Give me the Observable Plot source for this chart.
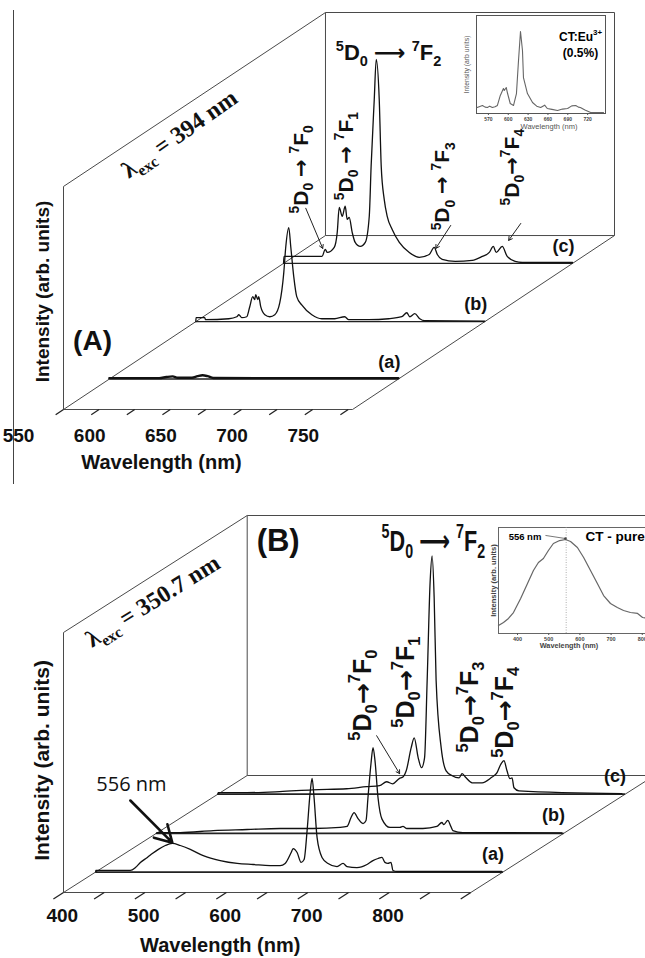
<!DOCTYPE html>
<html><head><meta charset="utf-8">
<script src="https://cdn.jsdelivr.net/npm/d3@7"></script>
<script src="https://cdn.jsdelivr.net/npm/@observablehq/plot@0.6"></script>
<style>
html,body{margin:0;padding:0;background:#fff;overflow:hidden;}
#page{position:relative;width:645px;height:958px;overflow:hidden;font-family:"Liberation Sans",Arial,sans-serif;}
.abs{position:absolute;}
#edge{position:absolute;left:13px;top:10px;width:0;height:474px;border-left:1px solid #444;}
</style></head><body><div id="page"><div id="edge"></div></div>
<script>
// ---------------- DATA ----------------
const seriesLabels = ["(a)", "(b)", "(c)"];
const seriesDepth = [0.175, 0.505, 0.84];

// Panel A (λexc = 394 nm) spectra: [wavelength nm, intensity a.u.]
const specA_a = [[550,0.4],[585,0.4],[590,0.9],[594.5,1.2],[598,0.6],[608,0.6],[612,1.3],[615.5,1.7],[619,1.3],[623,0.5],[680,0.4],[753,0.4]];
const specA_b = [[550,0],[550.2,1.8],[556.3,1.8],[556.8,0.9],[573.2,1.3],[578.8,2.2],[580.2,3.1],[582.3,1.8],[585.8,2.2],[587.9,6.7],[590,11.2],[591.4,9.9],[592.1,12.1],[593.5,9.9],[594.2,11.2],[595.6,6.7],[598.5,3.1],[602,2.2],[605.5,3.1],[609,8.5],[611.8,22],[613.2,33.6],[615.3,42.2],[616.7,33.6],[618.8,20.2],[620.9,11.2],[624.4,7.5],[631.5,3.1],[638.5,1.3],[647.6,1.3],[654.6,2.2],[657.4,0.9],[671.5,0.9],[685.5,1.3],[694.7,2.2],[698.2,4.0],[700.3,2.2],[703.8,3.6],[707.3,1.3],[710.8,0.4],[753,0.2]];
const specA_c = [[550,0],[550.3,3.1],[558,3.1],[577,3.1],[579.3,6.3],[580.7,4.9],[585.6,7.2],[587.7,13.9],[589.1,25.1],[591.2,21.1],[593.3,25.6],[594.7,19.7],[596.1,20.6],[598.2,13.9],[600.3,9.4],[603.9,7.6],[607.4,9.4],[610.2,21.1],[611.5,43.5],[613.7,73.5],[615.1,91.5],[617.2,73.5],[618.6,43.5],[620.7,28.7],[622.8,21.1],[626.3,15.2],[631.3,9.4],[638.3,4.9],[645.3,2.7],[652.3,4.0],[655.8,7.2],[658,4.0],[661.4,1.8],[670.6,0.9],[682.5,1.3],[689.6,3.1],[694.5,4.9],[697.3,7.6],[699.4,4.9],[703.6,7.6],[707.1,3.1],[712.7,0.9],[717.7,0.4],[753,0.4]];

// Panel B (λexc = 350.7 nm) spectra
const specB_a = [[350,0],[350.2,0.6],[392.6,0.6],[398.8,1.7],[404.9,3.7],[413.5,5.6],[419.6,7.1],[427,8.7],[435.5,10.2],[444.1,11],[453.9,10.2],[466.2,8.7],[482.1,6.3],[502.9,4.4],[523.8,3.3],[543.4,2.9],[564.2,2.5],[576.5,2.5],[582.6,3.3],[590,7.5],[592.4,9.0],[597.3,7.5],[602.2,3.7],[605.9,4.8],[609.6,16],[613.2,30.2],[615.7,36],[618.1,28.7],[621.8,13.3],[627.9,5.6],[635.3,3.3],[646.3,2.1],[653.7,3.3],[658.6,2.1],[670.8,1.7],[683.1,2.9],[690.4,4.4],[696.6,5.2],[701.5,5.6],[705.1,3.7],[708.8,3.3],[712.5,3.7],[715,0.6],[720,0.2],[848.5,0.2]];
const specB_b = [[350,0],[351.3,0.3],[379.5,0.3],[420,1.1],[461.6,1.5],[502.1,1.9],[542.5,1.9],[575.6,2.3],[584.2,2.7],[589.1,6.1],[592.8,8.0],[597.7,5.7],[603.8,3.8],[607.5,5],[609.9,13.8],[613.6,26.9],[616.1,33],[618.5,28],[622.2,13.8],[627.1,5.5],[636.9,2.3],[649.1,2.3],[652.8,2.7],[657.7,1.9],[677.3,1.9],[694.5,2.7],[700.6,4.2],[703,3.4],[707.9,5],[711.6,2.7],[714.1,1.1],[726.3,0.3],[847.7,0.2]];
const specB_c = [[350,0],[350.5,0.6],[385.6,0.6],[426.1,1],[466.5,1.7],[508.2,2.1],[532.7,2.9],[548.6,3.3],[557.2,4.8],[564.5,4],[572.7,6],[577.6,6.7],[581.3,9],[587.4,17.9],[591.1,21.7],[596,14],[600.1,10.2],[603.8,14],[607,43.7],[610.7,82.1],[613.1,91.7],[615.6,75.6],[618,43.7],[624.2,17.9],[630.3,9],[637.7,7.1],[646.2,6.3],[649.9,7.9],[654.8,6.3],[662.2,4.4],[674.4,4.4],[685.4,6.3],[692.8,8.3],[697.7,11.7],[701.3,12.9],[705,9],[708.7,6],[711.2,6.3],[713.6,2.5],[719.7,1.3],[846,0.2]];

// Insets
const insetA = [[553,6.1],[557,7.2],[561,8.2],[565,6.5],[568.5,6.1],[572,7.5],[576,6.1],[580,6.8],[583.6,8.2],[588,18.4],[592.7,25.5],[594,23.5],[597,26.5],[599,20.4],[603,10.2],[608,8.2],[612.4,20.4],[615.5,54],[618.5,83.7],[621.5,64.3],[623,36.7],[629,20.4],[636.7,11.2],[643,7.5],[649,6.1],[655,8.5],[659,5.1],[666,4.2],[674.5,3.1],[682,4.5],[689.7,5.1],[696,7.8],[702,8.2],[706,6.5],[709,6.1],[716,3.5],[724.5,1],[744,1]];
const insetB = [[339,7.5],[355,10.4],[371,14.2],[387,19.8],[410,33],[432,47.2],[451,59.4],[467,67],[483,70.8],[499,78.3],[515,84.9],[535,87.7],[554,88.7],[570,86.8],[592,81.1],[612,71.7],[634,59.4],[656,47.2],[676,35.8],[698,28.3],[720,24.5],[740,21.7],[762,19.8],[785,18.9],[801,15.1],[811,14.5]];

// Ticks
const ticksA = [550,575,600,625,650,675,700,725,750];
const tickLabelsA = [550,600,650,700,750];
const ticksB = [350,400,450,500,550,600,650,700,750,800,850];
const tickLabelsB = [400,500,600,700,800];
const insetTicksA = [570,600,630,660,690,720];
const insetTicksB = [400,500,600,700,800];

// Transition annotations (anchored on series (c))
const annotationsA = [
  {text:"^5D_0 ~ ^7F_2", w:586.7, I:91, rot:0},
  {text:"^5D_0 → ^7F_0", w:562.1, I:22.4, rot:-90},
  {text:"^5D_0 → ^7F_1", w:593.7, I:28.3, rot:-90},
  {text:"^5D_0 → ^7F_3", w:661.8, I:14.8, rot:-90},
  {text:"^5D_0→^7F_4", w:710.3, I:26.0, rot:-90}
];
const pointersA = [
  {w1:565.6, I1:24.7, w2:577.5, I2:6.7},
  {w1:667.4, I1:17, w2:656.9, I2:6.7},
  {w1:716.6, I1:17.9, w2:708.1, I2:10.3}
];
const annotationsB = [
  {text:"^5D_0 ~ ^7F_2", w:551.1, I:93.7, rot:0},
  {text:"^5D_0→^7F_0", w:527.8, I:20.6, rot:-90},
  {text:"^5D_0→^7F_1", w:580.5, I:25.6, rot:-90},
  {text:"^5D_0→^7F_3", w:660.2, I:16.0, rot:-90},
  {text:"^5D_0→^7F_4", w:703.1, I:14.0, rot:-90}
];
const pointersB = [{w1:545, I1:22.5, w2:573.2, I2:7.9}];
const calloutB = [{text:"556 nm", w:393.9, I:33.7, w1:392.6, I1:27.5, w2:444.1, I2:11.3}];
const insetCalloutB = [{text:"556 nm", w:424, I:91, w1:489.6, I1:92.5, w2:553.7, I2:89.6}];

// Titles
const titlesA = {
  exc: [{text:"λ_{exc} = 394 nm", w:550, I:89, d:0.443}],
  panel: [{text:"(A)", w:570.4, I:30.9, d:0}],
  yTitle: [{text:"Intensity (arb. units)", w:535.3, I:52.9, d:0}],
  xTitle: [{text:"Wavelength (nm)", w:618.8, I:-23.8, d:0}]
};
const titlesB = {
  exc: [{text:"λ_{exc} = 350.7 nm", w:350, I:90.2, d:0.486}],
  panel: [{text:"(B)", w:388, I:90, d:1}],
  yTitle: [{text:"Intensity (arb. units)", w:324.3, I:50.8, d:0}],
  xTitle: [{text:"Wavelength (nm)", w:542.4, I:-20.4, d:0}]
};

// ---------------- DRAWING ----------------
const edgeList = [
  [[0,0,0],[1,0,0]],[[0,0,0],[0,1,0]],[[0,1,0],[0,1,1]],[[0,0,0],[0,0,1]],
  [[0,0,1],[0,1,1]],[[0,1,1],[1,1,1]],[[1,0,1],[1,1,1]],[[0,0,1],[1,0,1]],[[1,0,0],[1,0,1]]
];
const L = {x1:"x1", y1:"y1", x2:"x2", y2:"y2"};

function panel(G, cfg) {
  const P = (w, I, d) => [w + d * G.dw, I + d * G.di];
  const seg = (a, b) => { const p = P(...a), q = P(...b); return {x1:p[0], y1:p[1], x2:q[0], y2:q[1]}; };
  const corner = k => [k[0] ? G.w1 : G.w0, k[1] ? G.top : 0, k[2]];
  const pt = (o, d) => { const p = P(o.w, o.I, d ?? o.d); return {...o, x:p[0], y:p[1]}; };
  const edges = edgeList.map(([a, b]) => seg(corner(a), corner(b)));
  const plates = seriesDepth.map(d => seg([G.w0,0,d],[G.w1,0,d]));
  const ends = seriesDepth.map((d, i) => { const p = P(G.w1,0,d); return {x:p[0], y:p[1], label:seriesLabels[i]}; });
  const curves = cfg.spectra.map((s, i) => s.map(([w, I]) => { const p = P(w, I, seriesDepth[i]); return {x:p[0], y:p[1]}; }));
  const tickSegs = cfg.ticks.map(w => seg([w,0,0],[w,0,-G.tick]));
  const tickText = cfg.tickLabels.map(w => { const p = P(w,0,0); return {x:p[0], y:p[1], t:String(w)}; });
  const dc = seriesDepth[2];
  const ann = cfg.annotations.map(a => pt(a, dc));
  const ptr = cfg.pointers.map(a => seg([a.w1,a.I1,dc],[a.w2,a.I2,dc]));
  const T = cfg.titles;
  const marks = [
    Plot.link(edges, {...L, stroke:"#4a4a4a", strokeWidth:1}),
    Plot.link(tickSegs, {...L, stroke:"#222", strokeWidth:1.3}),
    Plot.link(plates, {...L, stroke:"#222", strokeWidth:cfg.plateW}),
    ...curves.map((c, i) => Plot.line(c, {x:"x", y:"y", curve:"monotone-x", stroke:"#111", strokeWidth: cfg.curveW[i]})),
    Plot.text(tickText, {x:"x", y:"y", text:"t", dx:cfg.tickDx, dy:cfg.tickDy, lineAnchor:"middle", fontSize:cfg.tickFs, fontWeight:"bold"}),
    Plot.text(ends, {x:"x", y:"y", text:"label", dx:cfg.labDx, dy:cfg.labDy, lineAnchor:"middle", fontSize:18, fontWeight:"bold"}),
    Plot.text(ann.filter(a => a.rot === 0), {x:"x", y:"y", text:"text", textAnchor:"start", lineAnchor:"bottom", fontSize:cfg.annMainFs, fontWeight:"bold", fontFamily:cfg.annFont}),
    Plot.text(ann.filter(a => a.rot !== 0), {x:"x", y:"y", text:"text", rotate:-90, textAnchor:"start", lineAnchor:"middle", fontSize:cfg.annRotFs, fontWeight:"bold", fontFamily:cfg.annRotFont}),
    Plot.arrow(ptr, {...L, stroke:"#222", strokeWidth:1, headLength:6}),
    Plot.text(T.exc.map(o => pt(o)), {x:"x", y:"y", text:"text", rotate:cfg.excRot, lineAnchor:"middle", fontSize:24, fontWeight:"bold", fontFamily:"Liberation Serif, Times New Roman, serif"}),
    Plot.text(T.panel.map(o => pt(o)), {x:"x", y:"y", text:"text", lineAnchor:"middle", fontSize:cfg.panelFs, fontWeight:"bold"}),
    Plot.text(T.yTitle.map(o => pt(o)), {x:"x", y:"y", text:"text", rotate:-90, lineAnchor:"middle", fontSize:cfg.yTitleFs, fontWeight:"bold"}),
    Plot.text(T.xTitle.map(o => pt(o)), {x:"x", y:"y", text:"text", lineAnchor:"middle", fontSize:20, fontWeight:"bold"})
  ];
  if (cfg.callout) {
    const da = seriesDepth[0];
    const co = cfg.callout.map(o => pt(o, da));
    const cs = cfg.callout.map(o => seg([o.w1,o.I1,da],[o.w2,o.I2,da]));
    marks.push(Plot.text(co, {x:"x", y:"y", text:"text", lineAnchor:"middle", fontSize:20, fontFamily:"Open Sans, sans-serif"}));
    marks.push(Plot.arrow(cs, {...L, stroke:"#111", strokeWidth:2.6, headLength:11}));
  }
  return Plot.plot({
    width:645, height:cfg.height,
    x:{domain:[G.w0, G.w1 + G.dw], range:cfg.xRange, axis:null},
    y:{domain:[0, G.top + G.di], range:cfg.yRange, axis:null},
    style:{fontFamily:"Liberation Sans, Arial, sans-serif", background:"none", overflow:"visible", color:"#111"},
    marks
  });
}

const GA = {w0:550, w1:753, top:100, dw:184, di:78, tick:0.03};
const GB = {w0:350, w1:850, top:100, dw:225.5, di:45, tick:0.055};

const page = document.getElementById("page");
function place(node, left, top, w, h) {
  const div = document.createElement("div");
  div.className = "abs";
  div.style.left = left + "px"; div.style.top = top + "px";
  div.style.width = w + "px"; div.style.height = h + "px";
  div.appendChild(node); page.appendChild(div);
}

const plotA = panel(GA, {
  height:478, xRange:[63,614], yRange:[409,12],
  spectra:[specA_a, specA_b, specA_c], curveW:[2.4,1.3,1.3], plateW:1.4,
  ticks:ticksA, tickLabels:tickLabelsA, tickDx:-45, tickDy:26, tickFs:19,
  labDx:-9, labDy:-17,
  annotations:annotationsA, pointers:pointersA,
  annMainFs:22, annFont:"Liberation Sans, Arial, sans-serif",
  annRotFs:21, annRotFont:"Liberation Sans, Arial, sans-serif",
  titles:titlesA, excRot:-35, panelFs:28, yTitleFs:19
});
place(plotA, 0, 0, 645, 478);

const plotB = panel(GB, {
  height:480, xRange:[63,654], yRange:[414,37],
  spectra:[specB_a, specB_b, specB_c], curveW:[1.3,1.3,1.3], plateW:1.8,
  ticks:ticksB, tickLabels:tickLabelsB, tickDx:-42, tickDy:23, tickFs:19,
  labDx:-10, labDy:-18,
  annotations:annotationsB, pointers:pointersB, callout:calloutB,
  annMainFs:30, annFont:"Liberation Sans Narrow, Liberation Sans, Arial, sans-serif",
  annRotFs:25, annRotFont:"Liberation Sans, Arial, sans-serif",
  titles:titlesB, excRot:-32, panelFs:31, yTitleFs:21
});
place(plotB, 0, 478, 645, 480);

// Inset A
const inA = Plot.plot({
  width:155, height:125, marginLeft:21, marginRight:5, marginTop:5, marginBottom:22,
  x:{domain:[552,747]}, y:{domain:[0,100], axis:null},
  style:{fontFamily:"Liberation Sans, Arial, sans-serif", background:"none", overflow:"visible"},
  marks:[
    Plot.frame({stroke:"#555"}),
    Plot.line(insetA, {x:d => d[0], y:d => d[1], stroke:"#666", strokeWidth:1.1}),
    Plot.axisX({ticks:insetTicksA, tickSize:2, tickPadding:1.5, fontSize:5, fontWeight:"bold", label:null, stroke:"#555", fill:"#444"}),
    Plot.text(["Wavelength (nm)"], {frameAnchor:"bottom", dx:8, dy:15, fontSize:7.5, fill:"#555"}),
    Plot.text(["Intensity (arb units)"], {frameAnchor:"left", rotate:-90, dx:-10, textAnchor:"middle", lineAnchor:"middle", fontSize:6.8, fill:"#555"}),
    Plot.text(["CT:Eu^{3+}"], {frameAnchor:"top-right", dx:-25, dy:25, textAnchor:"middle", lineAnchor:"bottom", fontSize:12, fontWeight:"bold"}),
    Plot.text(["(0.5%)"], {frameAnchor:"top-right", dx:-25, dy:41, textAnchor:"middle", lineAnchor:"bottom", fontSize:12, fontWeight:"bold"})
  ]
});
place(inA, 455, 10, 155, 125);

// Inset B
const inB = Plot.plot({
  width:175, height:140, marginLeft:20, marginRight:0, marginTop:10, marginBottom:24,
  x:{domain:[339,836]}, y:{domain:[0,100], axis:null},
  style:{fontFamily:"Liberation Sans, Arial, sans-serif", background:"none", overflow:"visible"},
  marks:[
    Plot.frame({stroke:"#666"}),
    Plot.ruleX([556], {stroke:"#999", strokeWidth:0.8, strokeDasharray:"1,1.5"}),
    Plot.line(insetB, {x:d => d[0], y:d => d[1], stroke:"#666", strokeWidth:1.2}),
    Plot.axisX({ticks:insetTicksB, tickSize:2, tickPadding:1.5, fontSize:5.5, fontWeight:"bold", label:null, stroke:"#555", fill:"#444"}),
    Plot.text(["Wavelength (nm)"], {frameAnchor:"bottom", dx:-7, dy:14, fontSize:7.3, fontWeight:"bold", fill:"#444"}),
    Plot.text(["Intensity (arb. units)"], {frameAnchor:"left", rotate:-90, dx:-5, textAnchor:"middle", lineAnchor:"middle", fontSize:7.6, fontWeight:"bold", fill:"#444"}),
    Plot.link(insetCalloutB, {x1:"w1", y1:"I1", x2:"w2", y2:"I2", stroke:"#555", strokeWidth:0.8}),
    Plot.dot(insetCalloutB, {x:"w2", y:"I2", r:1.3, fill:"#444", stroke:null}),
    Plot.text(insetCalloutB, {x:"w", y:"I", text:"text", lineAnchor:"middle", fontSize:9.5, fontWeight:"bold"}),
    Plot.text(["CT - pure"], {frameAnchor:"top-left", dx:87, dy:13, textAnchor:"start", lineAnchor:"bottom", fontSize:13.5, fontWeight:"bold"})
  ]
});
place(inB, 478, 517, 175, 140);

// rich text: ^x superscript, _x subscript, ~ long arrow
function richText(root) {
  root.querySelectorAll("text").forEach(el => {
    const raw = el.textContent;
    if (!/[\^_~→]/.test(raw)) return;
    const fs = parseFloat(getComputedStyle(el).fontSize) || 12;
    const re = /([\^_])(?:\{([^}]*)\}|(.))|([~→])|([^\^_~→]+)/gu;
    const toks = [];
    for (const m of raw.matchAll(re)) {
      if (m[1]) toks.push({k: m[1] === "^" ? "sup" : "sub", t: m[2] ?? m[3]});
      else if (m[4]) toks.push({k:"arrow", t: m[4] === "~" ? "⟶" : "→"});
      else toks.push({k:"n", t:m[5]});
    }
    while (el.firstChild) el.removeChild(el.firstChild);
    let cur = 0;
    for (const tk of toks) {
      const off = tk.k === "sup" ? -0.42 * fs : tk.k === "sub" ? 0.24 * fs : 0;
      const ts = document.createElementNS("http://www.w3.org/2000/svg", "tspan");
      if (off !== cur) ts.setAttribute("dy", (off - cur).toFixed(2));
      cur = off;
      if (tk.k === "sup" || tk.k === "sub") ts.setAttribute("font-size", (0.66 * fs).toFixed(2));
      if (tk.k === "arrow") { ts.setAttribute("font-family", "DejaVu Sans"); ts.setAttribute("font-weight", "bold"); }
      ts.textContent = tk.t;
      el.appendChild(ts);
    }
  });
}
richText(page);

// condensed lettering for the large panel-B transition label
plotB.querySelectorAll('g[font-family*="Narrow"] text').forEach(t => {
  const tr = t.getAttribute("transform");
  if (tr) t.setAttribute("transform", tr + " scale(0.72,1)");
  else {
    const x = t.getAttribute("x") || 0;
    t.setAttribute("x", 0);
    t.setAttribute("transform", `translate(${x},0) scale(0.72,1)`);
  }
});
</script></body></html>
